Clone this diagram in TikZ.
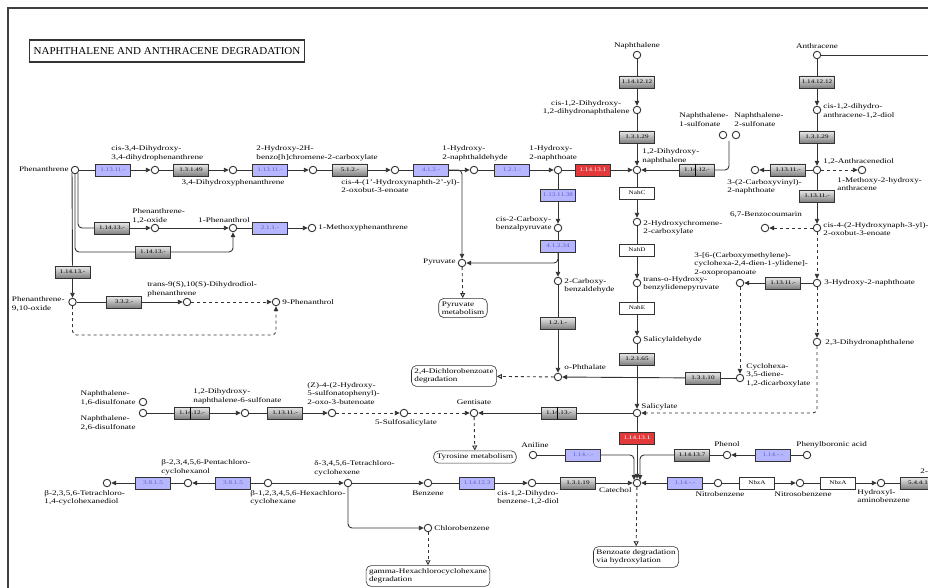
\documentclass[tikz,border=0pt]{standalone}
\usepackage{fontspec}
\setmainfont[FakeStretch=1.3]{Liberation Serif}
\newfontfamily\titlefont[FakeStretch=1.05]{Liberation Serif}
\usetikzlibrary{arrows.meta,shapes}
\definecolor{ecblue}{RGB}{182,182,255}
\definecolor{ectext}{RGB}{95,95,205}
\definecolor{ecred}{RGB}{226,58,58}
\tikzstyle{line} = [draw, -{Triangle[length=5pt,width=4.6pt]}]
\tikzstyle{link} = [draw, dashed, -{Triangle[open,length=5pt,width=5pt]}]
\tikzstyle{cpd} = [draw, circle, fill=white, minimum size=7.5pt, inner sep=0pt, line width=0.9pt]
\tikzstyle{ec} = [rectangle, draw, minimum width=35pt, minimum height=12pt, inner sep=0pt, line width=0.6pt, font=\fontsize{5.5}{6}\selectfont]
\tikzstyle{ec_blue} = [ec, fill=ecblue, text=ectext]
\tikzstyle{ec_gray} = [ec, top color=black!8, bottom color=black!50]
\tikzstyle{ec_red} = [ec, fill=ecred, text=white]
\tikzstyle{ec_white} = [ec, fill=white]
\tikzstyle{lbl} = [font=\fontsize{7}{8.5}\selectfont, inner sep=1pt, align=left]
\tikzstyle{map} = [draw, rounded corners=5pt, fill=white, inner sep=3pt, line width=0.6pt, align=left, font=\fontsize{7}{8.5}\selectfont]
\tikzstyle{titlebox} = [draw, line width=1.5pt, minimum width=275pt, minimum height=22pt, font=\titlefont\fontsize{10.5}{10.5}\selectfont]

\begin{document}
\begin{tikzpicture}[x=1pt, y=-1pt, line width=0.9pt, draw=black!80]
	\useasboundingbox (0,0) rectangle (928,588);
	\draw[black!75, line width=1.2pt] (8,588) -- (8,8) -- (928,8);
	\node[titlebox] (ttl) at (167,51) {NAPHTHALENE AND ANTHRACENE DEGRADATION};
	
	\node[cpd] (phen) at (75,170) {};
	\node[ec_blue] (e_phen1) at (113,170) {1.13.11.-};
	\node[cpd] (c_dhdp) at (155,170) {};
	\node[ec_gray] (e_dhdp) at (191,170) {1.3.1.49};
	\node[cpd] (c_dhp) at (233,170) {};
	\node[ec_blue] (e_dhp) at (270,170) {1.13.11.-};
	\node[cpd] (c_hbc) at (313,170) {};
	\node[ec_gray] (e_hbc) at (350,170) {5.1.2.-};
	\node[cpd] (c_hnob) at (395,170) {};
	\node[ec_blue] (e_hnob) at (431,170) {4.1.2.-};
	\node[cpd] (c_hna) at (474,170) {};
	\node[ec_blue] (e_hna) at (512,170) {1.2.1.-};
	\node[cpd] (c_hno) at (558,170) {};
	\node[ec_red] (e_hno) at (593,170) {1.14.13.1};
	\node[cpd] (dhn) at (637,170) {};
	
	\node[cpd] (naph) at (637,55) {};
	\node[ec_gray] (e_naph1) at (637,82) {1.14.12.12};
	\node[cpd] (c_ndd) at (637,110) {};
	\node[ec_gray] (e_naph2) at (637,137) {1.3.1.29};
	\node[ec_gray] (e_ns) at (697,170) {1.14.12.-};
	\node[cpd] (ns1) at (723,135) {};
	\node[cpd] (ns2) at (736,135) {};
	\coordinate (ns_join) at (729,141);
	
	\node[ec_white] (nahC) at (637,193) {NahC};
	\node[cpd] (c_hcc) at (637,222) {};
	\node[ec_white] (nahD) at (637,250) {NahD};
	\node[cpd] (c_tobp) at (637,283) {};
	\node[ec_white] (nahE) at (637,308) {NahE};
	\node[cpd] (c_sald) at (637,340) {};
	\node[ec_gray] (e_sald) at (637,359) {1.2.1.65};
	\node[cpd] (sal) at (637,413) {};
	\node[ec_red] (e_sal) at (637,438) {1.14.13.1};
	\node[cpd] (cat) at (637,483) {};
	
	\node[cpd] (anth) at (817,55) {};
	\coordinate (anth_r) at (930,55);
	\node[ec_gray] (e_anth1) at (817,82) {1.14.12.12};
	\node[cpd] (c_dad) at (817,110) {};
	\node[ec_gray] (e_anth2) at (817,137) {1.3.1.29};
	\node[cpd] (adiol) at (817,170) {};
	\node[cpd] (c_mha) at (862,170) {};
	\node[ec_gray] (e_adiol1) at (788,170) {1.13.11.-};
	\node[cpd] (c_cvn) at (755,170) {};
	\node[ec_gray] (e_adiol2) at (817,196) {1.13.11.-};
	\node[cpd] (c_hnpo) at (817,228) {};
	\node[cpd] (bcm) at (765,228) {};
	\node[cpd] (c_h2n) at (817,283) {};
	\node[ec_gray] (e_h2n) at (783,283) {1.13.11.-};
	\node[cpd] (c_cmc) at (740,283) {};
	\node[cpd] (c_dhn23) at (817,342) {};
	\node[cpd] (c_chd) at (740,378) {};
	\node[ec_gray] (e_chd) at (703,378) {1.3.1.10};
	
	\node[ec_blue] (e_hno2) at (558,195) {1.13.11.38};
	\node[cpd] (c_cbp) at (558,228) {};
	\node[ec_blue] (e_cbp) at (558,246) {4.1.2.34};
	\node[cpd] (c_cba) at (558,281) {};
	\node[ec_gray] (e_cba) at (558,323) {1.2.1.-};
	\node[cpd] (ophth) at (558,377) {};
	\node[cpd] (pyr) at (462,263) {};
	
	\node[map] (m_pyr) at (463,308) {Pyruvate\\metabolism};
	\node[map] (m_dcb) at (454,376) {2,4-Dichlorobenzoate\\degradation};
	\node[map] (m_tyr) at (475,457) {Tyrosine metabolism};
	\node[map] (m_hch) at (428,576) {gamma-Hexachlorocyclohexane\\degradation};
	\node[map] (m_bzo) at (636,557) {Benzoate degradation\\via hydroxylation};
	
	\node[ec_gray] (e_po1) at (112,228) {1.14.13.-};
	\node[cpd] (c_po) at (155,228) {};
	\node[cpd] (phol1) at (233,228) {};
	\node[ec_blue] (e_phol1) at (270,228) {2.1.1.-};
	\node[cpd] (c_mp) at (312,228) {};
	\node[ec_gray] (e_po2) at (153,252) {1.14.13.-};
	\node[ec_gray] (e_po3) at (72.5,272) {1.14.13.-};
	\node[cpd] (c_p910) at (72.5,302) {};
	\node[ec_gray] (e_p910) at (124,302) {3.3.2.-};
	\node[cpd] (c_tdp) at (187,302) {};
	\node[cpd] (phol9) at (276,302) {};
	\coordinate (p9_turn) at (72.5,335);
	
	\node[cpd] (nds16) at (143,402) {};
	\node[cpd] (nds26) at (143,413) {};
	\node[ec_gray] (e_nds) at (192,413) {1.14.12.-};
	\node[cpd] (c_dns) at (245,413) {};
	\node[ec_gray] (e_dns) at (285,413) {1.13.11.-};
	\node[cpd] (c_hsob) at (332,413) {};
	\node[cpd] (c_ssal) at (404,413) {};
	\node[cpd] (gent) at (474,413) {};
	\node[ec_gray] (e_gent) at (559,413) {1.14.13.-};
	
	\node[cpd] (c_tcd) at (107,483) {};
	\node[ec_blue] (e_tcd) at (153,483) {3.8.1.5};
	\node[cpd] (c_pcc) at (188,483) {};
	\node[ec_blue] (e_pcc) at (233,483) {3.8.1.5};
	\node[cpd] (hch) at (268,483) {};
	\node[cpd] (tce) at (348,483) {};
	\node[cpd] (benz) at (428,483) {};
	\node[ec_blue] (e_benz) at (477,483) {1.14.12.3};
	\node[cpd] (c_cdbd) at (532,483) {};
	\node[ec_gray] (e_cdbd) at (578,483) {1.3.1.19};
	\node[cpd] (clb) at (428,528) {};
	\node[cpd] (anil) at (533,455) {};
	\node[ec_blue] (e_anil) at (583,455) {1.14.-.-};
	\node[cpd] (phnl) at (727,455) {};
	\node[ec_gray] (e_phnl) at (692,455) {1.14.13.7};
	\node[ec_blue] (e_pba) at (773,455) {1.14.-.-};
	\node[cpd] (pba) at (807,455) {};
	\node[ec_blue] (e_nb) at (685,483) {1.14.-.-};
	\node[cpd] (nb) at (718,483) {};
	\node[ec_white] (nbzA1) at (757,483) {NbzA};
	\node[cpd] (nsb) at (800,483) {};
	\node[ec_white] (nbzA2) at (838,483) {NbzA};
	\node[cpd] (hab) at (881,483) {};
	\node[ec_gray] (e_hab) at (918,483) {5.4.4.1};
	
	\draw[line width=1pt, black] ([xshift=-2pt]e_ns.north) -- ([xshift=-2pt]e_ns.south);
	\draw[line width=1pt, black] ([xshift=-2pt]e_nds.north) -- ([xshift=-2pt]e_nds.south);
	\draw[line width=1pt, black] ([xshift=-2pt]e_gent.north) -- ([xshift=-2pt]e_gent.south);
	
	\draw (phen) -- (e_phen1);
	\path [line] (e_phen1) -- (c_dhdp);
	\draw (c_dhdp) -- (e_dhdp);
	\path [line] (e_dhdp) -- (c_dhp);
	\draw (c_dhp) -- (e_dhp);
	\path [line] (e_dhp) -- (c_hbc);
	\draw (c_hbc) -- (e_hbc);
	\path [line] (e_hbc) -- (c_hnob);
	\draw (c_hnob) -- (e_hnob);
	\path [line] (e_hnob) -- (c_hna);
	\path [line, rounded corners=4pt] (e_hnob.east) -| (pyr);
	\draw (c_hna) -- (e_hna);
	\path [line] (e_hna) -- (c_hno);
	\draw (c_hno) -- (e_hno);
	\path [line] (e_hno) -- (dhn);
	
	\draw (naph) -- (e_naph1);
	\path [line] (e_naph1) -- (c_ndd);
	\draw (c_ndd) -- (e_naph2);
	\path [line] (e_naph2) -- (dhn);
	\path [line] (e_ns) -- (dhn);
	\draw [rounded corners=4pt] (e_ns.east) -| (ns_join);
	
	\draw (dhn) -- (nahC);
	\path [line] (nahC) -- (c_hcc);
	\draw (c_hcc) -- (nahD);
	\path [line] (nahD) -- (c_tobp);
	\draw (c_tobp) -- (nahE);
	\path [line] (nahE) -- (c_sald);
	\draw (c_sald) -- (e_sald);
	\path [line] (e_sald) -- (sal);
	\draw (sal) -- (e_sal);
	\path [line] (e_sal) -- (cat.north);
	\path [link] (cat) -- (m_bzo);
	
	\draw (anth) -- (anth_r);
	\draw (anth) -- (e_anth1);
	\path [line] (e_anth1) -- (c_dad);
	\draw (c_dad) -- (e_anth2);
	\path [line] (e_anth2) -- (adiol);
	\path [line, dashed] (adiol) -- (c_mha);
	\draw (adiol) -- (e_adiol1);
	\path [line] (e_adiol1) -- (c_cvn);
	\draw (adiol) -- (e_adiol2);
	\path [line] (e_adiol2) -- (c_hnpo);
	\path [line, dashed] (c_hnpo) -- (bcm);
	\path [line, dashed] (c_hnpo) -- (c_h2n);
	\draw (c_h2n) -- (e_h2n);
	\path [line] (e_h2n) -- (c_cmc);
	\path [line, dashed] (c_cmc) -- (c_chd);
	\draw (c_chd) -- (e_chd);
	\path [line] (e_chd) -- (ophth);
	\path [line, dashed] (c_h2n) -- (c_dhn23);
	\path [line, dashed, rounded corners=4pt] (c_dhn23) |- (sal);
	
	\draw (c_hno) -- (e_hno2);
	\path [line] (e_hno2) -- (c_cbp);
	\draw (c_cbp) -- (e_cbp);
	\path [line, rounded corners=4pt] (e_cbp.south) |- (pyr);
	\path [line] (e_cbp) -- (c_cba);
	\draw (c_cba) -- (e_cba);
	\path [line] (e_cba) -- (ophth);
	\path [link] (ophth) -- (m_dcb);
	\path [link] (pyr) -- (m_pyr);
	
	\draw [rounded corners=4pt] (phen.south east) |- (e_po1);
	\path [line] (e_po1) -- (c_po);
	\path [line] (c_po) -- (phol1);
	\draw [rounded corners=4pt] (phen.south) |- (e_po2);
	\path [line, rounded corners=4pt] (e_po2.east) -| (phol1);
	\draw (phen.south west) -- (e_po3);
	\path [line] (e_po3) -- (c_p910);
	\draw (c_p910) -- (e_p910);
	\path [line] (e_p910) -- (c_tdp);
	\path [line, dashed] (c_tdp) -- (phol9);
	\path [line, dashed, rounded corners=4pt] (c_p910) -- (p9_turn) -| (phol9);
	\draw (phol1) -- (e_phol1);
	\path [line] (e_phol1) -- (c_mp);
	
	\draw (nds26) -- (e_nds);
	\path [line] (e_nds) -- (c_dns);
	\draw (c_dns) -- (e_dns);
	\path [line] (e_dns) -- (c_hsob);
	\path [line, dashed] (c_hsob) -- (c_ssal);
	\path [line, dashed] (c_ssal) -- (gent);
	\draw (sal) -- (e_gent);
	\path [line] (e_gent) -- (gent);
	\path [link] (gent) -- (m_tyr);
	
	\draw (hch) -- (e_pcc);
	\path [line] (e_pcc) -- (c_pcc);
	\draw (c_pcc) -- (e_tcd);
	\path [line] (e_tcd) -- (c_tcd);
	\path [line] (hch) -- (tce);
	\path [line] (tce) -- (benz);
	\path [line, rounded corners=4pt] (tce) |- (clb);
	\path [link] (clb) -- (m_hch);
	\draw (benz) -- (e_benz);
	\path [line] (e_benz) -- (c_cdbd);
	\draw (c_cdbd) -- (e_cdbd);
	\path [line] (e_cdbd) -- (cat);
	\draw (anil) -- (e_anil);
	\path [line, rounded corners=4pt] (e_anil.east) -| (cat.north west);
	\draw (phnl) -- (e_phnl);
	\path [line, rounded corners=4pt] (e_phnl.west) -| (cat.north east);
	\draw (pba) -- (e_pba);
	\path [line] (e_pba) -- (phnl);
	\path [line] (e_nb) -- (cat);
	\draw (nb) -- (e_nb);
	\draw (nb) -- (nbzA1);
	\path [line] (nbzA1) -- (nsb);
	\draw (nsb) -- (nbzA2);
	\path [line] (nbzA2) -- (hab);
	\draw (hab) -- (e_hab);
	
	\node[lbl, anchor=east] (l_phen) at (70,169) {Phenanthrene};
	\node[lbl, anchor=south west] (l_dhdp) at (110,162) {cis-3,4-Dihydroxy-\\3,4-dihydrophenanthrene};
	\node[lbl, anchor=north] (l_dhp) at (233,178) {3,4-Dihydroxyphenanthrene};
	\node[lbl, anchor=south west] (l_hbc) at (255,162) {2-Hydroxy-2H-\\benzo[h]chromene-2-carboxylate};
	\node[lbl, anchor=north west] (l_hnob) at (340,178) {cis-4-(1'-Hydroxynaphth-2'-yl)-\\2-oxobut-3-enoate};
	\node[lbl, anchor=south west] (l_hna) at (441,162) {1-Hydroxy-\\2-naphthaldehyde};
	\node[lbl, anchor=south west] (l_hno) at (528,162) {1-Hydroxy-\\2-naphthoate};
	\node[lbl, anchor=east, align=center] (l_ndd) at (631,108) {cis-1,2-Dihydroxy-\\1,2-dihydronaphthalene};
	\node[lbl, anchor=south west] (l_dhn) at (641,165) {1,2-Dihydroxy-\\naphthalene};
	\node[lbl, anchor=south] (l_naph) at (637,50) {Naphthalene};
	\node[lbl, anchor=south west] (l_ns1) at (678,128) {Naphthalene-\\1-sulfonate};
	\node[lbl, anchor=south west] (l_ns2) at (733,128) {Naphthalene-\\2-sulfonate};
	\node[lbl, anchor=south] (l_anth) at (817,50) {Anthracene};
	\node[lbl, anchor=west] (l_dad) at (822,111) {cis-1,2-dihydro-\\anthracene-1,2-diol};
	\node[lbl, anchor=west] (l_adiol) at (822,162) {1,2-Anthracenediol};
	\node[lbl, anchor=north west] (l_mha) at (836,176) {1-Methoxy-2-hydroxy-\\anthracene};
	\node[lbl, anchor=north west] (l_cvn) at (726,178) {3-(2-Carboxyvinyl)-\\2-naphthoate};
	\node[lbl, anchor=south] (l_bcm) at (766,219) {6,7-Benzocoumarin};
	\node[lbl, anchor=west] (l_hnpo) at (822,229) {cis-4-(2-Hydroxynaph-3-yl)-\\2-oxobut-3-enoate};
	\node[lbl, anchor=west] (l_hcc) at (642,228) {2-Hydroxychromene-\\2-carboxylate};
	\node[lbl, anchor=west] (l_tobp) at (642,284) {trans-o-Hydroxy-\\benzylidenepyruvate};
	\node[lbl, anchor=west] (l_sald) at (642,340) {Salicylaldehyde};
	\node[lbl, anchor=south west] (l_cmc) at (693,277) {3-[6-(Carboxymethylene)-\\cyclohexa-2,4-dien-1-ylidene]-\\2-oxopropanoate};
	\node[lbl, anchor=west] (l_h2n) at (823,283) {3-Hydroxy-2-naphthoate};
	\node[lbl, anchor=west] (l_dhn23) at (824,343) {2,3-Dihydronaphthalene};
	\node[lbl, anchor=west] (l_chd) at (745,375) {Cyclohexa-\\3,5-diene-\\1,2-dicarboxylate};
	\node[lbl, anchor=south west] (l_ophth) at (563,371) {o-Phthalate};
	\node[lbl, anchor=north west] (l_cba) at (563,277) {2-Carboxy-\\benzaldehyde};
	\node[lbl, anchor=east] (l_cbp) at (553,224) {cis-2-Carboxy-\\benzalpyruvate};
	\node[lbl, anchor=east] (l_pyr) at (457,262) {Pyruvate};
	\node[lbl, anchor=south west] (l_sal) at (640,411) {Salicylate};
	\node[lbl, anchor=north east] (l_cat) at (633,486) {Catechol};
	\node[lbl, anchor=south] (l_phnl) at (727,448) {Phenol};
	\node[lbl, anchor=south west] (l_pba) at (795,449) {Phenylboronic acid};
	\node[lbl, anchor=north] (l_nb) at (720,490) {Nitrobenzene};
	\node[lbl, anchor=north] (l_nsb) at (803,490) {Nitrosobenzene};
	\node[lbl, anchor=north west] (l_hab) at (856,488) {Hydroxyl-\\aminobenzene};
	\node[lbl, anchor=south west] (l_amp) at (919,476) {2-Aminophenol};
	\node[lbl, anchor=south] (l_anil) at (535,449) {Aniline};
	\node[lbl, anchor=south] (l_gent) at (474,406) {Gentisate};
	\node[lbl, anchor=north] (l_ssal) at (406,418) {5-Sulfosalicylate};
	\node[lbl, anchor=south west] (l_hsob) at (306,406) {(Z)-4-(2-Hydroxy-\\5-sulfonatophenyl)-\\2-oxo-3-butenoate};
	\node[lbl, anchor=south west] (l_dns) at (192,405) {1,2-Dihydroxy-\\naphthalene-6-sulfonate};
	\node[lbl, anchor=east] (l_nds16) at (137,398) {Naphthalene-\\1,6-disulfonate};
	\node[lbl, anchor=east] (l_nds26) at (137,423) {Naphthalene-\\2,6-disulfonate};
	\node[lbl, anchor=south west] (l_pcc) at (160,476) {β-2,3,4,5,6-Pentachloro-\\cyclohexanol};
	\node[lbl, anchor=north west] (l_tcd) at (43,489) {β-2,3,5,6-Tetrachloro-\\1,4-cyclohexanediol};
	\node[lbl, anchor=north west] (l_hch) at (249,489) {β-1,2,3,4,5,6-Hexachloro-\\cyclohexane};
	\node[lbl, anchor=south west] (l_tce) at (313,477) {δ-3,4,5,6-Tetrachloro-\\cyclohexene};
	\node[lbl, anchor=north] (l_benz) at (428,489) {Benzene};
	\node[lbl, anchor=north west] (l_cdbd) at (496,489) {cis-1,2-Dihydro-\\benzene-1,2-diol};
	\node[lbl, anchor=west] (l_clb) at (433,528) {Chlorobenzene};
	\node[lbl, anchor=south] (l_phol1) at (224,224) {1-Phenanthrol};
	\node[lbl, anchor=south west] (l_po) at (131,225) {Phenanthrene-\\1,2-oxide};
	\node[lbl, anchor=west] (l_mp) at (317,228) {1-Methoxyphenanthrene};
	\node[lbl, anchor=east] (l_p910) at (66,304) {Phenanthrene-\\9,10-oxide};
	\node[lbl, anchor=south west] (l_tdp) at (146,298) {trans-9(S),10(S)-Dihydrodiol-\\phenanthrene};
	\node[lbl, anchor=west] (l_phol9) at (281,302) {9-Phenanthrol};
\end{tikzpicture}
\end{document}
